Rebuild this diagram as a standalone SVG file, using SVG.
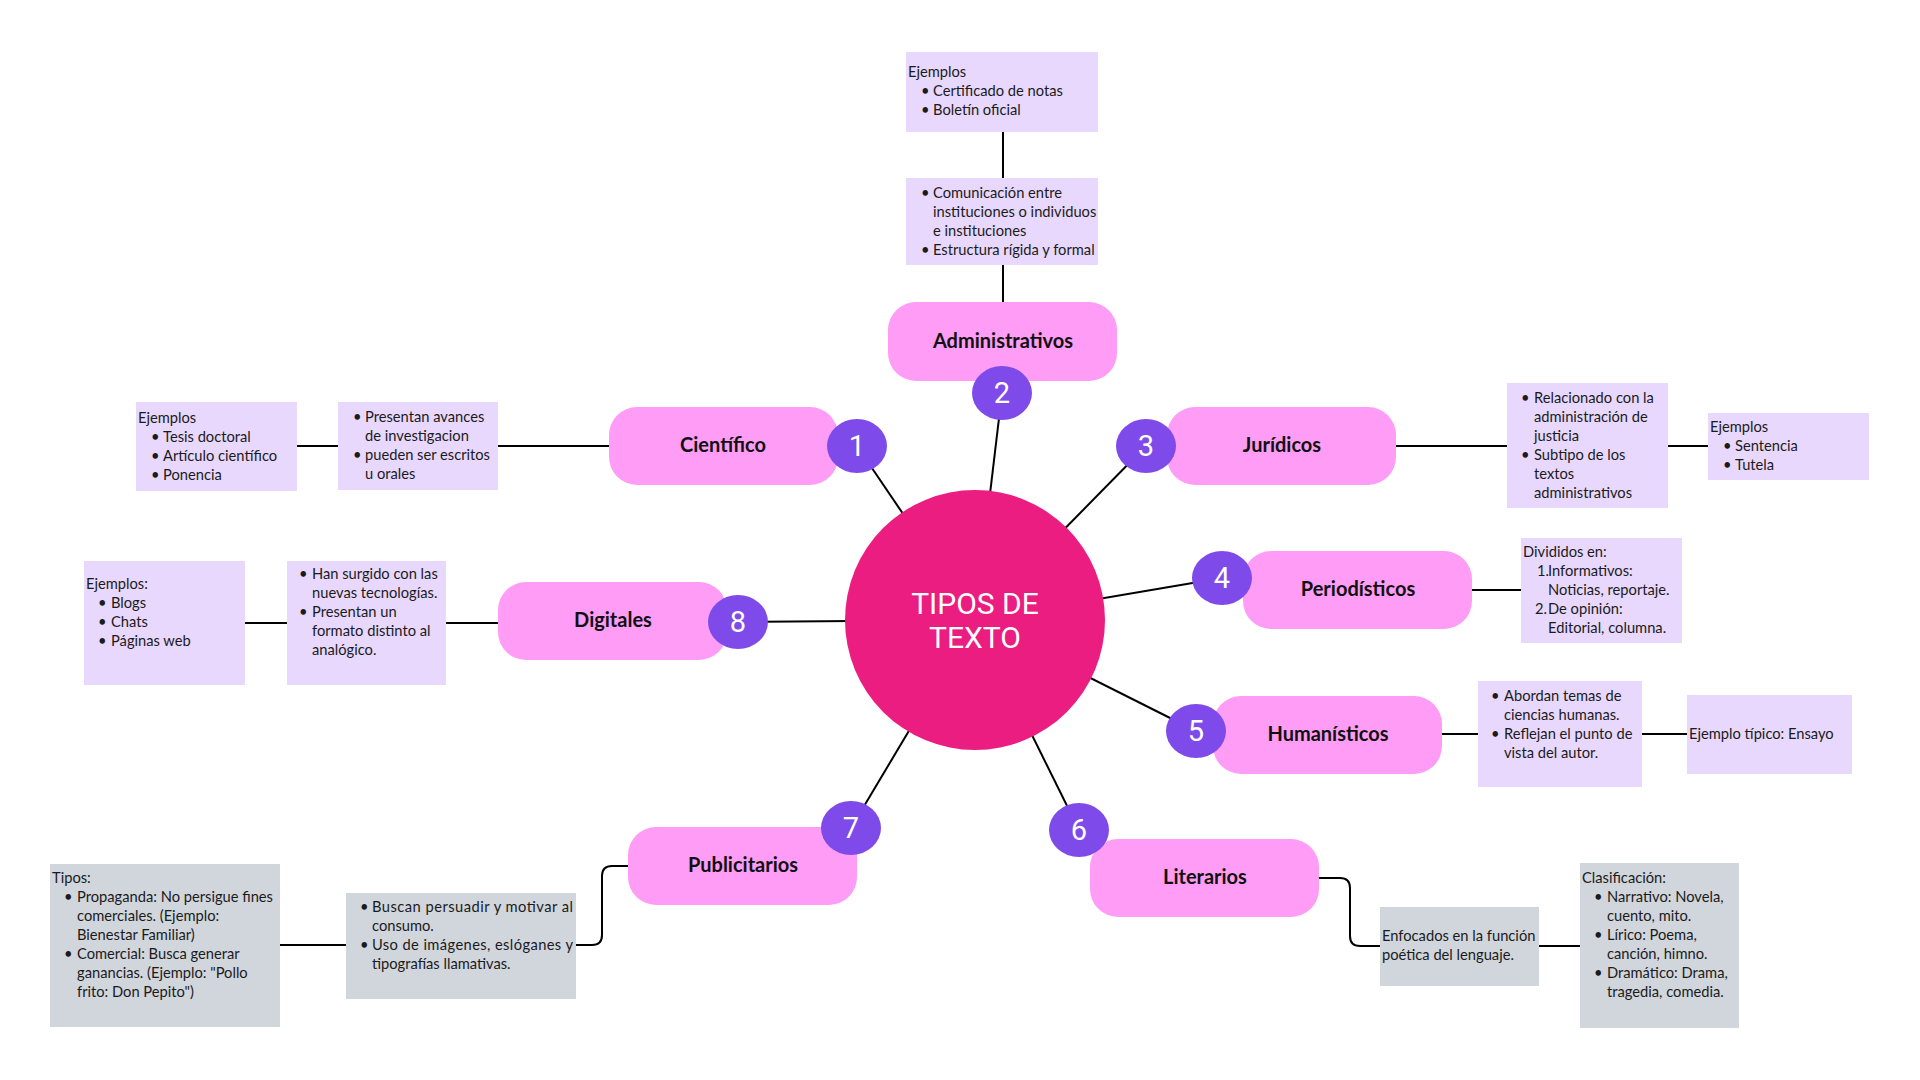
<svg xmlns="http://www.w3.org/2000/svg" width="1920" height="1080" viewBox="0 0 1920 1080">
<style>
.bg{fill:#ffffff}
.ln{stroke:#000;stroke-width:2;fill:none}
.node{fill:#FE9CF6}
.lav{fill:#E8D8FE}
.gry{fill:#D1D5DC}
.num{fill:#7E4AEA}
.numt{font-family:Roboto,"DejaVu Sans",sans-serif;font-size:29px;fill:#fff;text-anchor:middle}
.lbl{font-family:Lato,"Liberation Sans",sans-serif;font-size:20px;font-weight:700;fill:#111;text-anchor:middle}
.t{font-family:Lato,"Liberation Sans",sans-serif;font-size:14.7px;fill:#1b1b1b}
.title{font-family:Roboto,"DejaVu Sans",sans-serif;font-size:30px;fill:#fff;text-anchor:middle}
</style>
<rect class="bg" x="0" y="0" width="1920" height="1080"/>

<g id="connectors">
  <line class="ln" x1="975" y1="620" x2="857" y2="446"/>
  <line class="ln" x1="975" y1="620" x2="1002" y2="393"/>
  <line class="ln" x1="975" y1="620" x2="1146" y2="446"/>
  <line class="ln" x1="975" y1="620" x2="1222" y2="578"/>
  <line class="ln" x1="975" y1="620" x2="1196" y2="731"/>
  <line class="ln" x1="975" y1="620" x2="1079" y2="830"/>
  <line class="ln" x1="975" y1="620" x2="851" y2="828"/>
  <line class="ln" x1="975" y1="620" x2="738" y2="622"/>
  <line class="ln" x1="1003" y1="131" x2="1003" y2="178"/>
  <line class="ln" x1="1003" y1="264" x2="1003" y2="302"/>
  <line class="ln" x1="498" y1="446" x2="609" y2="446"/>
  <line class="ln" x1="297" y1="446" x2="338" y2="446"/>
  <line class="ln" x1="1396" y1="446" x2="1507" y2="446"/>
  <line class="ln" x1="1668" y1="446" x2="1708" y2="446"/>
  <line class="ln" x1="1472" y1="590" x2="1521" y2="590"/>
  <line class="ln" x1="1442" y1="734" x2="1478" y2="734"/>
  <line class="ln" x1="1642" y1="734" x2="1687" y2="734"/>
  <path class="ln" d="M1319,878 H1340 Q1350,878 1350,888 V936 Q1350,946 1360,946 H1380"/>
  <line class="ln" x1="1539" y1="946" x2="1580" y2="946"/>
  <path class="ln" d="M628,866 H612 Q602,866 602,876 V935 Q602,945 592,945 H576"/>
  <line class="ln" x1="280" y1="945" x2="346" y2="945"/>
  <line class="ln" x1="446" y1="623" x2="498" y2="623"/>
  <line class="ln" x1="245" y1="623" x2="287" y2="623"/>
</g>

<g id="center">
  <circle cx="975" cy="620" r="130" fill="#EC1D80"/>
  <text class="title" x="975" y="614">TIPOS DE</text>
  <text class="title" x="975" y="648">TEXTO</text>
</g>

<g id="node-administrativos">
  <rect class="node" x="888" y="302" width="229" height="79" rx="28"/>
  <text class="lbl" x="1003" y="348">Administrativos</text>
  <ellipse class="num" cx="1002" cy="393" rx="30" ry="27"/>
  <text class="numt" x="1002" y="403">2</text>
</g>
<g id="admin-desc">
  <rect class="lav" x="906" y="178" width="192" height="87"/>
  <text class="t"><tspan x="921" y="198">•</tspan><tspan x="933" y="198">Comunicación entre</tspan><tspan x="933" y="217">instituciones o individuos</tspan><tspan x="933" y="236">e instituciones</tspan><tspan x="921" y="255">•</tspan><tspan x="933" y="255">Estructura rígida y formal</tspan></text>
</g>
<g id="admin-ejemplos">
  <rect class="lav" x="906" y="52" width="192" height="80"/>
  <text class="t"><tspan x="908" y="77">Ejemplos</tspan><tspan x="921" y="96">•</tspan><tspan x="933" y="96">Certificado de notas</tspan><tspan x="921" y="115">•</tspan><tspan x="933" y="115">Boletín oficial</tspan></text>
</g>

<g id="node-cientifico">
  <rect class="node" x="609" y="407" width="229" height="78" rx="28"/>
  <text class="lbl" x="723" y="452">Científico</text>
  <ellipse class="num" cx="857" cy="446" rx="30" ry="27"/>
  <text class="numt" x="857" y="456">1</text>
</g>
<g id="cientifico-desc">
  <rect class="lav" x="338" y="402" width="160" height="88"/>
  <text class="t"><tspan x="353" y="422">•</tspan><tspan x="365" y="422">Presentan avances</tspan><tspan x="365" y="441">de investigacion</tspan><tspan x="353" y="460">•</tspan><tspan x="365" y="460">pueden ser escritos</tspan><tspan x="365" y="479">u orales</tspan></text>
</g>
<g id="cientifico-ejemplos">
  <rect class="lav" x="136" y="402" width="161" height="89"/>
  <text class="t"><tspan x="138" y="423">Ejemplos</tspan><tspan x="151" y="442">•</tspan><tspan x="163" y="442">Tesis doctoral</tspan><tspan x="151" y="461">•</tspan><tspan x="163" y="461">Artículo científico</tspan><tspan x="151" y="480">•</tspan><tspan x="163" y="480">Ponencia</tspan></text>
</g>

<g id="node-juridicos">
  <rect class="node" x="1167" y="407" width="229" height="78" rx="28"/>
  <text class="lbl" x="1282" y="452">Jurídicos</text>
  <ellipse class="num" cx="1146" cy="446" rx="30" ry="27"/>
  <text class="numt" x="1146" y="456">3</text>
</g>
<g id="juridicos-desc">
  <rect class="lav" x="1507" y="383" width="161" height="125"/>
  <text class="t"><tspan x="1521" y="403">•</tspan><tspan x="1534" y="403">Relacionado con la</tspan><tspan x="1534" y="422">administración de</tspan><tspan x="1534" y="441">justicia</tspan><tspan x="1521" y="460">•</tspan><tspan x="1534" y="460">Subtipo de los</tspan><tspan x="1534" y="479">textos</tspan><tspan x="1534" y="498">administrativos</tspan></text>
</g>
<g id="juridicos-ejemplos">
  <rect class="lav" x="1708" y="413" width="161" height="67"/>
  <text class="t"><tspan x="1710" y="432">Ejemplos</tspan><tspan x="1723" y="451">•</tspan><tspan x="1735" y="451">Sentencia</tspan><tspan x="1723" y="470">•</tspan><tspan x="1735" y="470">Tutela</tspan></text>
</g>

<g id="node-periodisticos">
  <rect class="node" x="1243" y="551" width="229" height="78" rx="28"/>
  <text class="lbl" x="1358" y="596">Periodísticos</text>
  <ellipse class="num" cx="1222" cy="578" rx="30" ry="27"/>
  <text class="numt" x="1222" y="588">4</text>
</g>
<g id="periodisticos-desc">
  <rect class="lav" x="1521" y="538" width="161" height="105"/>
  <text class="t"><tspan x="1523" y="557">Divididos en:</tspan><tspan x="1537" y="576">1.</tspan><tspan x="1548" y="576">Informativos:</tspan><tspan x="1548" y="595">Noticias, reportaje.</tspan><tspan x="1535" y="614">2.</tspan><tspan x="1548" y="614">De opinión:</tspan><tspan x="1548" y="633">Editorial, columna.</tspan></text>
</g>

<g id="node-humanisticos">
  <rect class="node" x="1213" y="696" width="229" height="78" rx="28"/>
  <text class="lbl" x="1328" y="741">Humanísticos</text>
  <ellipse class="num" cx="1196" cy="731" rx="30" ry="27"/>
  <text class="numt" x="1196" y="741">5</text>
</g>
<g id="humanisticos-desc">
  <rect class="lav" x="1478" y="681" width="164" height="106"/>
  <text class="t"><tspan x="1491" y="701">•</tspan><tspan x="1504" y="701">Abordan temas de</tspan><tspan x="1504" y="720">ciencias humanas.</tspan><tspan x="1491" y="739">•</tspan><tspan x="1504" y="739">Reflejan el punto de</tspan><tspan x="1504" y="758">vista del autor.</tspan></text>
</g>
<g id="humanisticos-ejemplo">
  <rect class="lav" x="1687" y="695" width="165" height="79"/>
  <text class="t" x="1689" y="739">Ejemplo típico: Ensayo</text>
</g>

<g id="node-literarios">
  <rect class="node" x="1090" y="839" width="229" height="78" rx="28"/>
  <text class="lbl" x="1205" y="884">Literarios</text>
  <ellipse class="num" cx="1079" cy="830" rx="30" ry="27"/>
  <text class="numt" x="1079" y="840">6</text>
</g>
<g id="literarios-desc">
  <rect class="gry" x="1380" y="907" width="159" height="79"/>
  <text class="t"><tspan x="1382" y="941">Enfocados en la función</tspan><tspan x="1382" y="960">poética del lenguaje.</tspan></text>
</g>
<g id="literarios-clasificacion">
  <rect class="gry" x="1580" y="863" width="159" height="165"/>
  <text class="t"><tspan x="1582" y="883">Clasificación:</tspan><tspan x="1594" y="902">•</tspan><tspan x="1607" y="902">Narrativo: Novela,</tspan><tspan x="1607" y="921">cuento, mito.</tspan><tspan x="1594" y="940">•</tspan><tspan x="1607" y="940">Lírico: Poema,</tspan><tspan x="1607" y="959">canción, himno.</tspan><tspan x="1594" y="978">•</tspan><tspan x="1607" y="978">Dramático: Drama,</tspan><tspan x="1607" y="997">tragedia, comedia.</tspan></text>
</g>

<g id="node-publicitarios">
  <rect class="node" x="628" y="827" width="229" height="78" rx="28"/>
  <text class="lbl" x="743" y="872">Publicitarios</text>
  <ellipse class="num" cx="851" cy="828" rx="30" ry="27"/>
  <text class="numt" x="851" y="838">7</text>
</g>
<g id="publicitarios-desc">
  <rect class="gry" x="346" y="893" width="230" height="106"/>
  <text class="t" x="360" y="912">•</text>
  <text class="t" x="372" y="912" textLength="201" lengthAdjust="spacing">Buscan persuadir y motivar al</text>
  <text class="t" x="372" y="931">consumo.</text>
  <text class="t" x="360" y="950">•</text>
  <text class="t" x="372" y="950" textLength="201" lengthAdjust="spacing">Uso de imágenes, eslóganes y</text>
  <text class="t" x="372" y="969">tipografías llamativas.</text>
</g>
<g id="publicitarios-tipos">
  <rect class="gry" x="50" y="864" width="230" height="163"/>
  <text class="t"><tspan x="52" y="883">Tipos:</tspan><tspan x="64" y="902">•</tspan><tspan x="77" y="902">Propaganda: No persigue fines</tspan><tspan x="77" y="921">comerciales. (Ejemplo:</tspan><tspan x="77" y="940">Bienestar Familiar)</tspan><tspan x="64" y="959">•</tspan><tspan x="77" y="959">Comercial: Busca generar</tspan><tspan x="77" y="978">ganancias. (Ejemplo: "Pollo</tspan><tspan x="77" y="997">frito: Don Pepito")</tspan></text>
</g>

<g id="node-digitales">
  <rect class="node" x="498" y="582" width="229" height="78" rx="28"/>
  <text class="lbl" x="613" y="627">Digitales</text>
  <ellipse class="num" cx="738" cy="622" rx="30" ry="27"/>
  <text class="numt" x="738" y="632">8</text>
</g>
<g id="digitales-desc">
  <rect class="lav" x="287" y="561" width="159" height="124"/>
  <text class="t"><tspan x="299" y="579">•</tspan><tspan x="312" y="579">Han surgido con las</tspan><tspan x="312" y="598">nuevas tecnologías.</tspan><tspan x="299" y="617">•</tspan><tspan x="312" y="617">Presentan un</tspan><tspan x="312" y="636">formato distinto al</tspan><tspan x="312" y="655">analógico.</tspan></text>
</g>
<g id="digitales-ejemplos">
  <rect class="lav" x="84" y="561" width="161" height="124"/>
  <text class="t"><tspan x="86" y="589">Ejemplos:</tspan><tspan x="98" y="608">•</tspan><tspan x="111" y="608">Blogs</tspan><tspan x="98" y="627">•</tspan><tspan x="111" y="627">Chats</tspan><tspan x="98" y="646">•</tspan><tspan x="111" y="646">Páginas web</tspan></text>
</g>
</svg>
